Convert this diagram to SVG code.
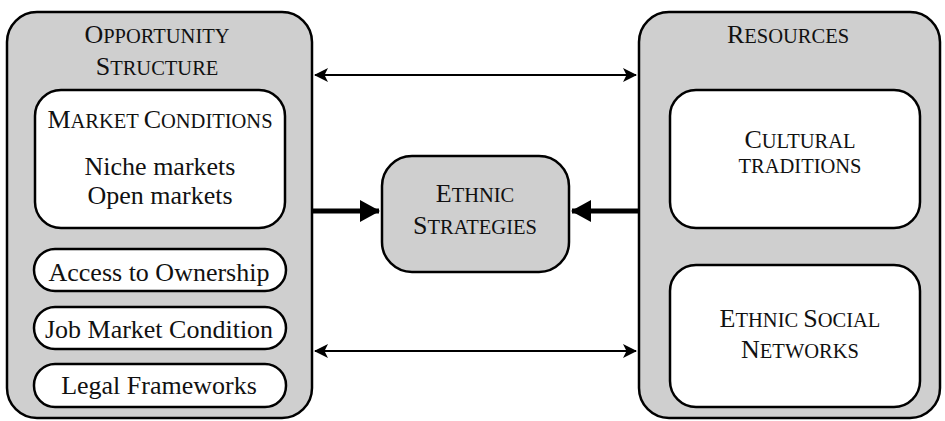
<svg xmlns="http://www.w3.org/2000/svg" width="945" height="421" viewBox="0 0 945 421">
<style>
.outer{fill:#cfcfcf;stroke:#000;stroke-width:2.5}
.inner{fill:#fff;stroke:#000;stroke-width:2.5}
.mid{fill:#cfcfcf;stroke:#000;stroke-width:2.5}
text{font-family:"Liberation Serif","Times New Roman",serif;fill:#111;text-anchor:middle;font-size:26px}
.sc{font-size:20.5px}
.thin{stroke:#000;stroke-width:2;fill:none}
.thick{stroke:#000;stroke-width:5;fill:none}
</style>
<defs>
<marker id="ah" viewBox="0 0 14 14" refX="13" refY="7" markerWidth="14" markerHeight="14" markerUnits="userSpaceOnUse" orient="auto-start-reverse">
<path d="M0,0 L14,7 L0,14 L3.5,7 Z" fill="#000"/>
</marker>
<marker id="bh" viewBox="0 0 20 22" refX="19" refY="11" markerWidth="20" markerHeight="22" markerUnits="userSpaceOnUse" orient="auto">
<path d="M0,0 L20,11 L0,22 Z" fill="#000"/>
</marker>
</defs>
<g id="opportunity-structure">
<rect class="outer" x="7" y="12" width="305" height="406" rx="30"/>
<text x="157" y="43">O<tspan class="sc">PPORTUNITY</tspan></text>
<text x="157" y="75">S<tspan class="sc">TRUCTURE</tspan></text>
</g>
<g id="market-conditions">
<rect class="inner" x="35" y="90" width="250" height="138" rx="26"/>
<text x="160" y="128">M<tspan class="sc">ARKET </tspan>C<tspan class="sc">ONDITIONS</tspan></text>
<text x="160" y="175">Niche markets</text>
<text x="160" y="204">Open markets</text>
</g>
<g id="access-to-ownership">
<rect class="inner" x="34" y="249" width="252" height="42" rx="21"/>
<text x="159" y="281">Access to Ownership</text>
</g>
<g id="job-market-condition">
<rect class="inner" x="34" y="307" width="252" height="42" rx="21"/>
<text x="159" y="338">Job Market Condition</text>
</g>
<g id="legal-frameworks">
<rect class="inner" x="34" y="364" width="252" height="43" rx="21"/>
<text x="159" y="394">Legal Frameworks</text>
</g>
<g id="ethnic-strategies">
<rect class="mid" x="382" y="156" width="187" height="116" rx="30"/>
<text x="475" y="202">E<tspan class="sc">THNIC</tspan></text>
<text x="475" y="234">S<tspan class="sc">TRATEGIES</tspan></text>
</g>
<g id="resources">
<rect class="outer" x="639" y="12" width="301" height="406" rx="30"/>
<text x="788" y="43">R<tspan class="sc">ESOURCES</tspan></text>
</g>
<g id="cultural-traditions">
<rect class="inner" x="670" y="90" width="250" height="138" rx="26"/>
<text x="800" y="148">C<tspan class="sc">ULTURAL</tspan></text>
<text x="800" y="173" class="sc">TRADITIONS</text>
</g>
<g id="ethnic-social-networks">
<rect class="inner" x="670" y="265" width="250" height="142" rx="26"/>
<text x="800" y="327">E<tspan class="sc">THNIC </tspan>S<tspan class="sc">OCIAL</tspan></text>
<text x="800" y="358">N<tspan class="sc">ETWORKS</tspan></text>
</g>
<g id="connectors">
<line class="thin" x1="315" y1="75" x2="636" y2="75" marker-start="url(#ah)" marker-end="url(#ah)"/>
<line class="thin" x1="315" y1="351" x2="636" y2="351" marker-start="url(#ah)" marker-end="url(#ah)"/>
<line class="thick" x1="313" y1="211" x2="379" y2="211" marker-end="url(#bh)"/>
<line class="thick" x1="638" y1="211" x2="572" y2="211" marker-end="url(#bh)"/>
</g>
</svg>
